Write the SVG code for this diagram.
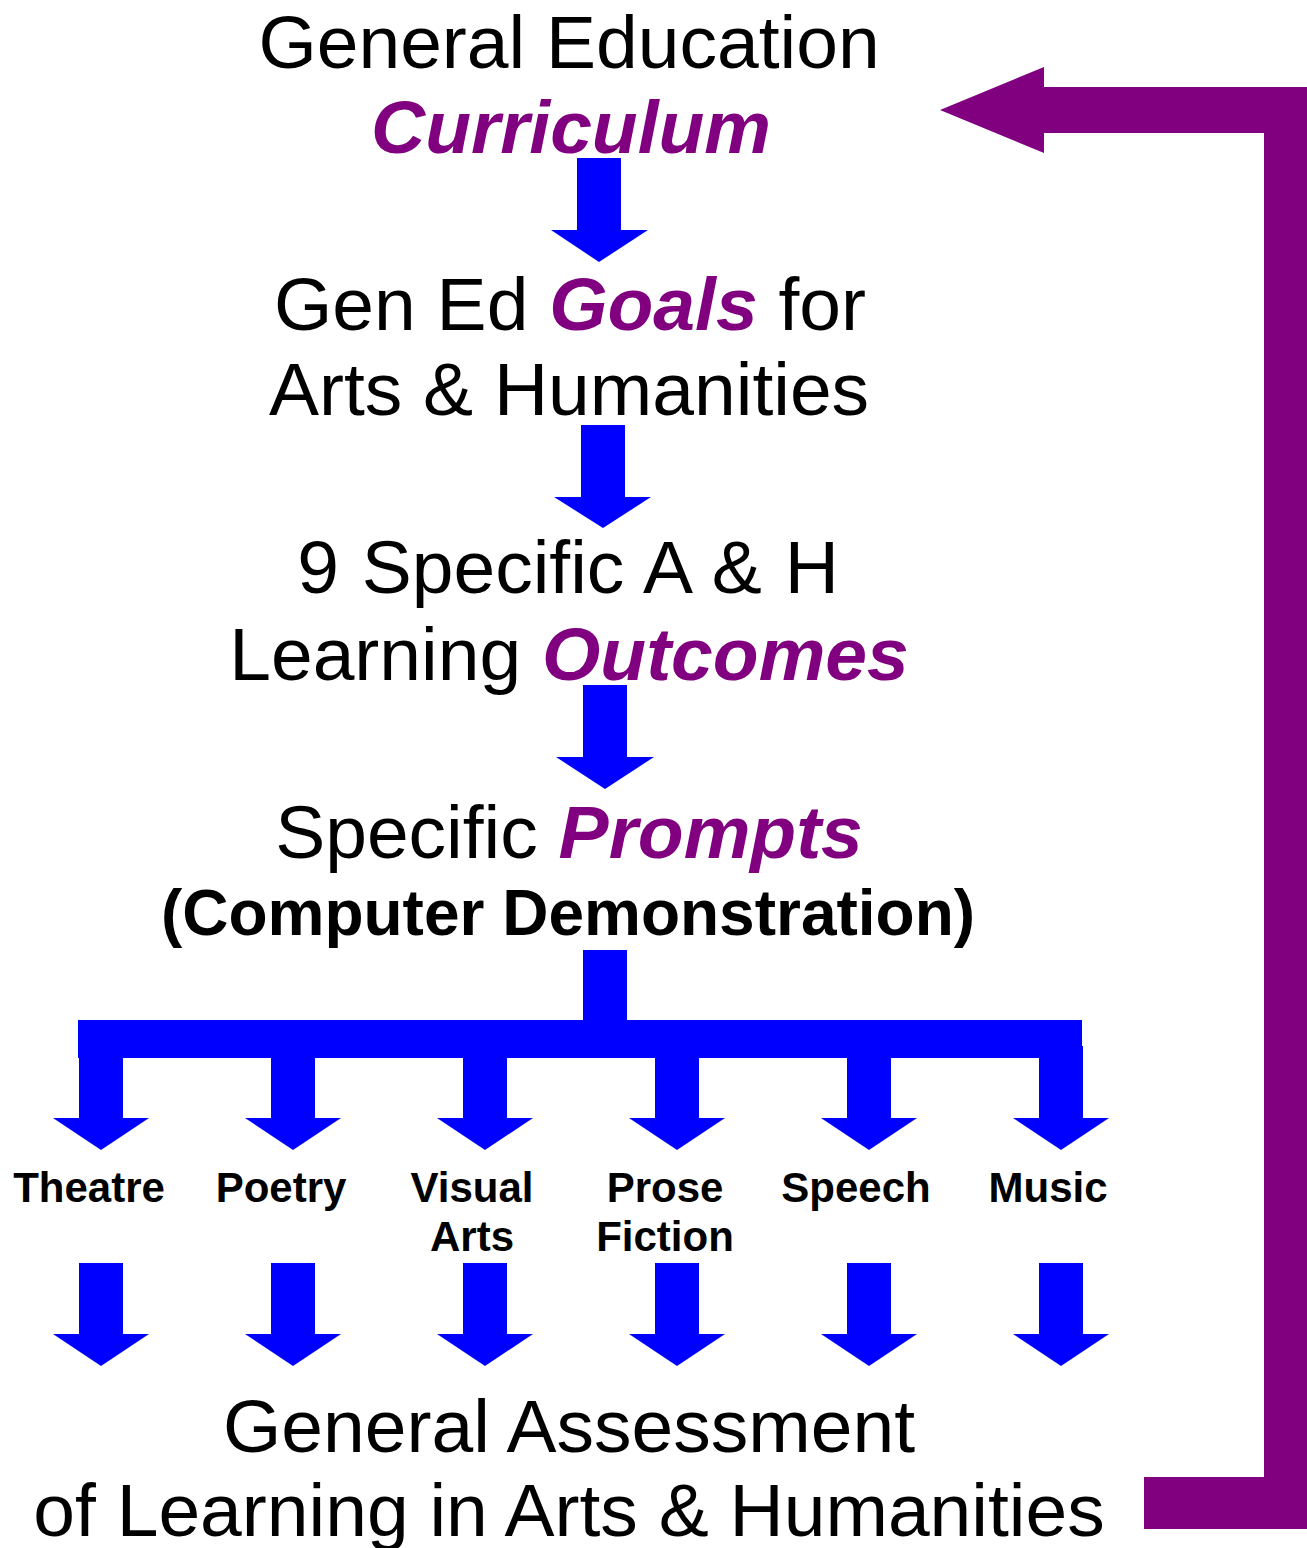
<svg xmlns="http://www.w3.org/2000/svg" width="1307" height="1548" viewBox="0 0 1307 1548">
  <style>
    .t { font-family: "Liberation Sans", Arial, sans-serif; font-size: 75px; fill: #000; text-anchor: middle; }
    .em { font-weight: bold; font-style: italic; fill: #800080; }
    .b { font-weight: bold; }
    .cat { font-family: "Liberation Sans", Arial, sans-serif; font-size: 42px; font-weight: bold; fill: #000; text-anchor: middle; }
    .flow { fill: #0000ff; }
    .loop { fill: #800080; }
  </style>
  <defs>
    <!-- block arrow pointing down, origin at the top centre of the shaft -->
    <path id="down" d="M-22 0 H22 V72 H48 L0 104 L-48 72 H-22 Z"/>
  </defs>

  <rect width="1307" height="1548" fill="#fff"/>

  <g id="connectors">
    <!-- main chain -->
    <path class="flow" d="M577 158 H621 V230 H648 L599 262 L551 230 H577 Z"/>
    <path class="flow" d="M581 425 H625 V497 H651 L603 528 L554 497 H581 Z"/>
    <path class="flow" d="M583 685 H627 V757 H654 L605 789 L556 757 H583 Z"/>
    <!-- branching bar to the disciplines -->
    <path class="flow" d="M583 950 H627 V1020 H1082 V1058 H78 V1020 H583 Z"/>
    <g class="flow">
      <use href="#down" x="101" y="1046"/>
      <use href="#down" x="293" y="1046"/>
      <use href="#down" x="485" y="1046"/>
      <use href="#down" x="677" y="1046"/>
      <use href="#down" x="869" y="1046"/>
      <use href="#down" x="1061" y="1046"/>
    </g>
    <g class="flow">
      <path d="M79 1263 H123 V1334 H149 L101 1366 L53 1334 H79 Z"/>
      <path d="M271 1263 H315 V1334 H341 L293 1366 L245 1334 H271 Z"/>
      <path d="M463 1263 H507 V1334 H533 L485 1366 L437 1334 H463 Z"/>
      <path d="M655 1263 H699 V1334 H725 L677 1366 L629 1334 H655 Z"/>
      <path d="M847 1263 H891 V1334 H917 L869 1366 L821 1334 H847 Z"/>
      <path d="M1039 1263 H1083 V1334 H1109 L1061 1366 L1013 1334 H1039 Z"/>
    </g>
    <!-- feedback loop back to the curriculum -->
    <path class="loop" d="M940 110 L1044 67 V87 H1307 V1529 H1144 V1477 H1264 V133 H1044 V153 Z"/>
  </g>

  <g id="curriculum">
    <text class="t" x="569" y="68">General Education</text>
    <text class="t em" x="571" y="153">Curriculum</text>
  </g>

  <g id="goals">
    <text class="t" x="570" y="330">Gen Ed <tspan class="em">Goals</tspan> for</text>
    <text class="t" x="569" y="415">Arts &amp; Humanities</text>
  </g>

  <g id="outcomes">
    <text class="t" x="568" y="593" word-spacing="2">9 Specific A &amp; H</text>
    <text class="t" x="569" y="680">Learning <tspan class="em">Outcomes</tspan></text>
  </g>

  <g id="prompts">
    <text class="t" x="569" y="858">Specific <tspan class="em">Prompts</tspan></text>
    <text class="t b" x="568" y="935" style="font-size:64px">(Computer Demonstration)</text>
  </g>

  <g id="theatre"><text class="cat" x="89" y="1202">Theatre</text></g>
  <g id="poetry"><text class="cat" x="281" y="1202">Poetry</text></g>
  <g id="visual-arts">
    <text class="cat" x="472" y="1202">Visual</text>
    <text class="cat" x="472" y="1251">Arts</text>
  </g>
  <g id="prose-fiction">
    <text class="cat" x="665" y="1202">Prose</text>
    <text class="cat" x="665" y="1251">Fiction</text>
  </g>
  <g id="speech"><text class="cat" x="856" y="1202">Speech</text></g>
  <g id="music"><text class="cat" x="1048" y="1202">Music</text></g>

  <g id="assessment">
    <text class="t" x="569" y="1452">General Assessment</text>
    <text class="t" x="569" y="1536">of Learning in Arts &amp; Humanities</text>
  </g>
</svg>
